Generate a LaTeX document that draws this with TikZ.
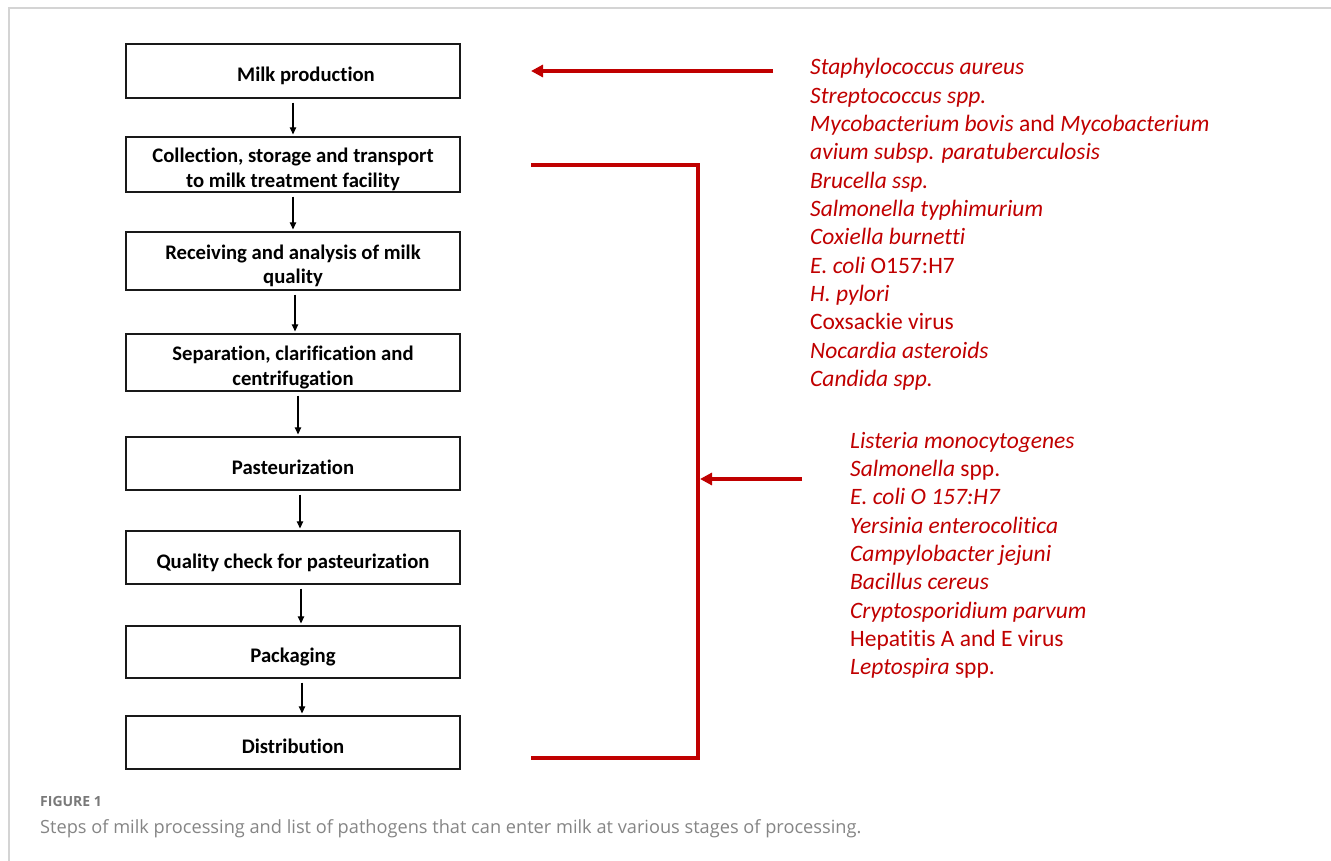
\documentclass[tikz,border=0pt]{standalone}
\usepackage{fontspec}
\setmainfont{Carlito}[Ligatures=CommonOff]
\newfontfamily\capfont{Open Sans}
\usetikzlibrary{arrows.meta}
\definecolor{pathred}{HTML}{C00000}
\definecolor{framegray}{HTML}{D4D4D4}
\definecolor{capgray}{HTML}{858585}
\newcommand{\boxtext}[1]{\raisebox{-5.5pt}[\height][\depth]{\begin{tabular}{@{}c@{}}#1\end{tabular}}}
\begin{document}
\begin{tikzpicture}[x=1pt,y=-1pt,
  stepbox/.style={draw=black!90, line width=1.3pt, minimum width=334pt, inner sep=0pt, align=center, font=\fontsize{20.7}{25}\selectfont\bfseries},
  flow/.style={line width=1.2pt, -{Triangle[length=7pt,width=6.5pt]}, shorten <=4pt, shorten >=2pt},
  redline/.style={draw=pathred, line width=4pt, line join=miter},
  redarrow/.style={redline, -{Triangle[length=12pt,width=12pt]}},
  pathtxt/.style={text=pathred, anchor=base west, inner sep=0pt, font=\fontsize{23.5}{28}\selectfont\itshape},
]
\useasboundingbox (0,0) rectangle (1331,861);
\draw[framegray, line width=2pt] (8.7,861) -- (8.7,8) -- (1331,8);

% process steps
\node[stepbox, minimum height=54pt] (b1) at (293,71) {\boxtext{\hspace*{26pt}Milk production}};
\node[stepbox, minimum height=55pt] (b2) at (293,164.5) {\boxtext{Collection, storage and transport\\to milk treatment facility}};
\node[stepbox, minimum height=58pt] (b3) at (293,261) {\boxtext{Receiving and analysis of milk\\quality}};
\node[stepbox, minimum height=57pt] (b4) at (293,362.5) {\boxtext{Separation, clarification and\\centrifugation}};
\node[stepbox, minimum height=53pt] (b5) at (293,463.5) {\boxtext{Pasteurization}};
\node[stepbox, minimum height=53pt] (b6) at (293,557.5) {\boxtext{Quality check for pasteurization}};
\node[stepbox, minimum height=52pt] (b7) at (293,652) {\boxtext{Packaging}};
\node[stepbox, minimum height=53pt] (b8) at (293,742.5) {\boxtext{Distribution}};

\draw[flow] ([xshift=0pt]b1.south) -- ([xshift=0pt]b2.north);
\draw[flow] ([xshift=0pt]b2.south) -- ([xshift=0pt]b3.north);
\draw[flow] ([xshift=2pt]b3.south) -- ([xshift=2pt]b4.north);
\draw[flow] ([xshift=5pt]b4.south) -- ([xshift=5pt]b5.north);
\draw[flow] ([xshift=7pt]b5.south) -- ([xshift=7pt]b6.north);
\draw[flow] ([xshift=8pt]b6.south) -- ([xshift=8pt]b7.north);
\draw[flow] ([xshift=9pt]b7.south) -- ([xshift=9pt]b8.north);

% red connectors
\coordinate (r1s) at (773,71);
\coordinate (r1e) at (531,71);
\draw[redarrow] (r1s) -- (r1e);
\coordinate (brt) at (531,165.5);
\coordinate (brtr) at (698,165.5);
\coordinate (brbr) at (698,758);
\coordinate (brb) at (531,758);
\draw[redline] (brt) -- (brtr) -- (brbr) -- (brb);
\coordinate (r2s) at (802,479);
\coordinate (r2e) at (700,479);
\draw[redarrow] (r2s) -- (r2e);

% pathogen lists
\foreach \t [count=\i from 0] in {
  {Staphylococcus aureus},
  {Streptococcus spp.},
  {Mycobacterium bovis \textup{and} Mycobacterium},
  {avium subsp. paratuberculosis},
  {Brucella ssp.},
  {Salmonella typhimurium},
  {Coxiella burnetti},
  {E. coli \textup{O157:H7}},
  {H. pylori},
  {\textup{Coxsackie virus}},
  {Nocardia asteroids},
  {Candida spp.}}
  \node[pathtxt] (pa\i) at (810,{75+28.3*\i}) {\t};

\foreach \t [count=\i from 0] in {
  {Listeria monocytogenes},
  {Salmonella \textup{spp.}},
  {E. coli O 157:H7},
  {Yersinia enterocolitica},
  {Campylobacter jejuni},
  {Bacillus cereus},
  {Cryptosporidium parvum},
  {\textup{Hepatitis A and E virus}},
  {Leptospira \textup{spp.}}}
  \node[pathtxt] (pb\i) at (850,{448.3+28.3*\i}) {\t};

% caption
\node[anchor=base west, inner sep=0pt, text=capgray!110, font=\capfont\fontsize{14}{16}\selectfont\bfseries] (figlabel) at (40,806.7) {FIGURE 1};
\node[anchor=base west, inner sep=0pt, text=capgray, font=\capfont\fontsize{18.2}{21}\selectfont] (caption) at (40,833.3) {Steps of milk processing and list of pathogens that can enter milk at various stages of processing.};
\end{tikzpicture}
\end{document}
